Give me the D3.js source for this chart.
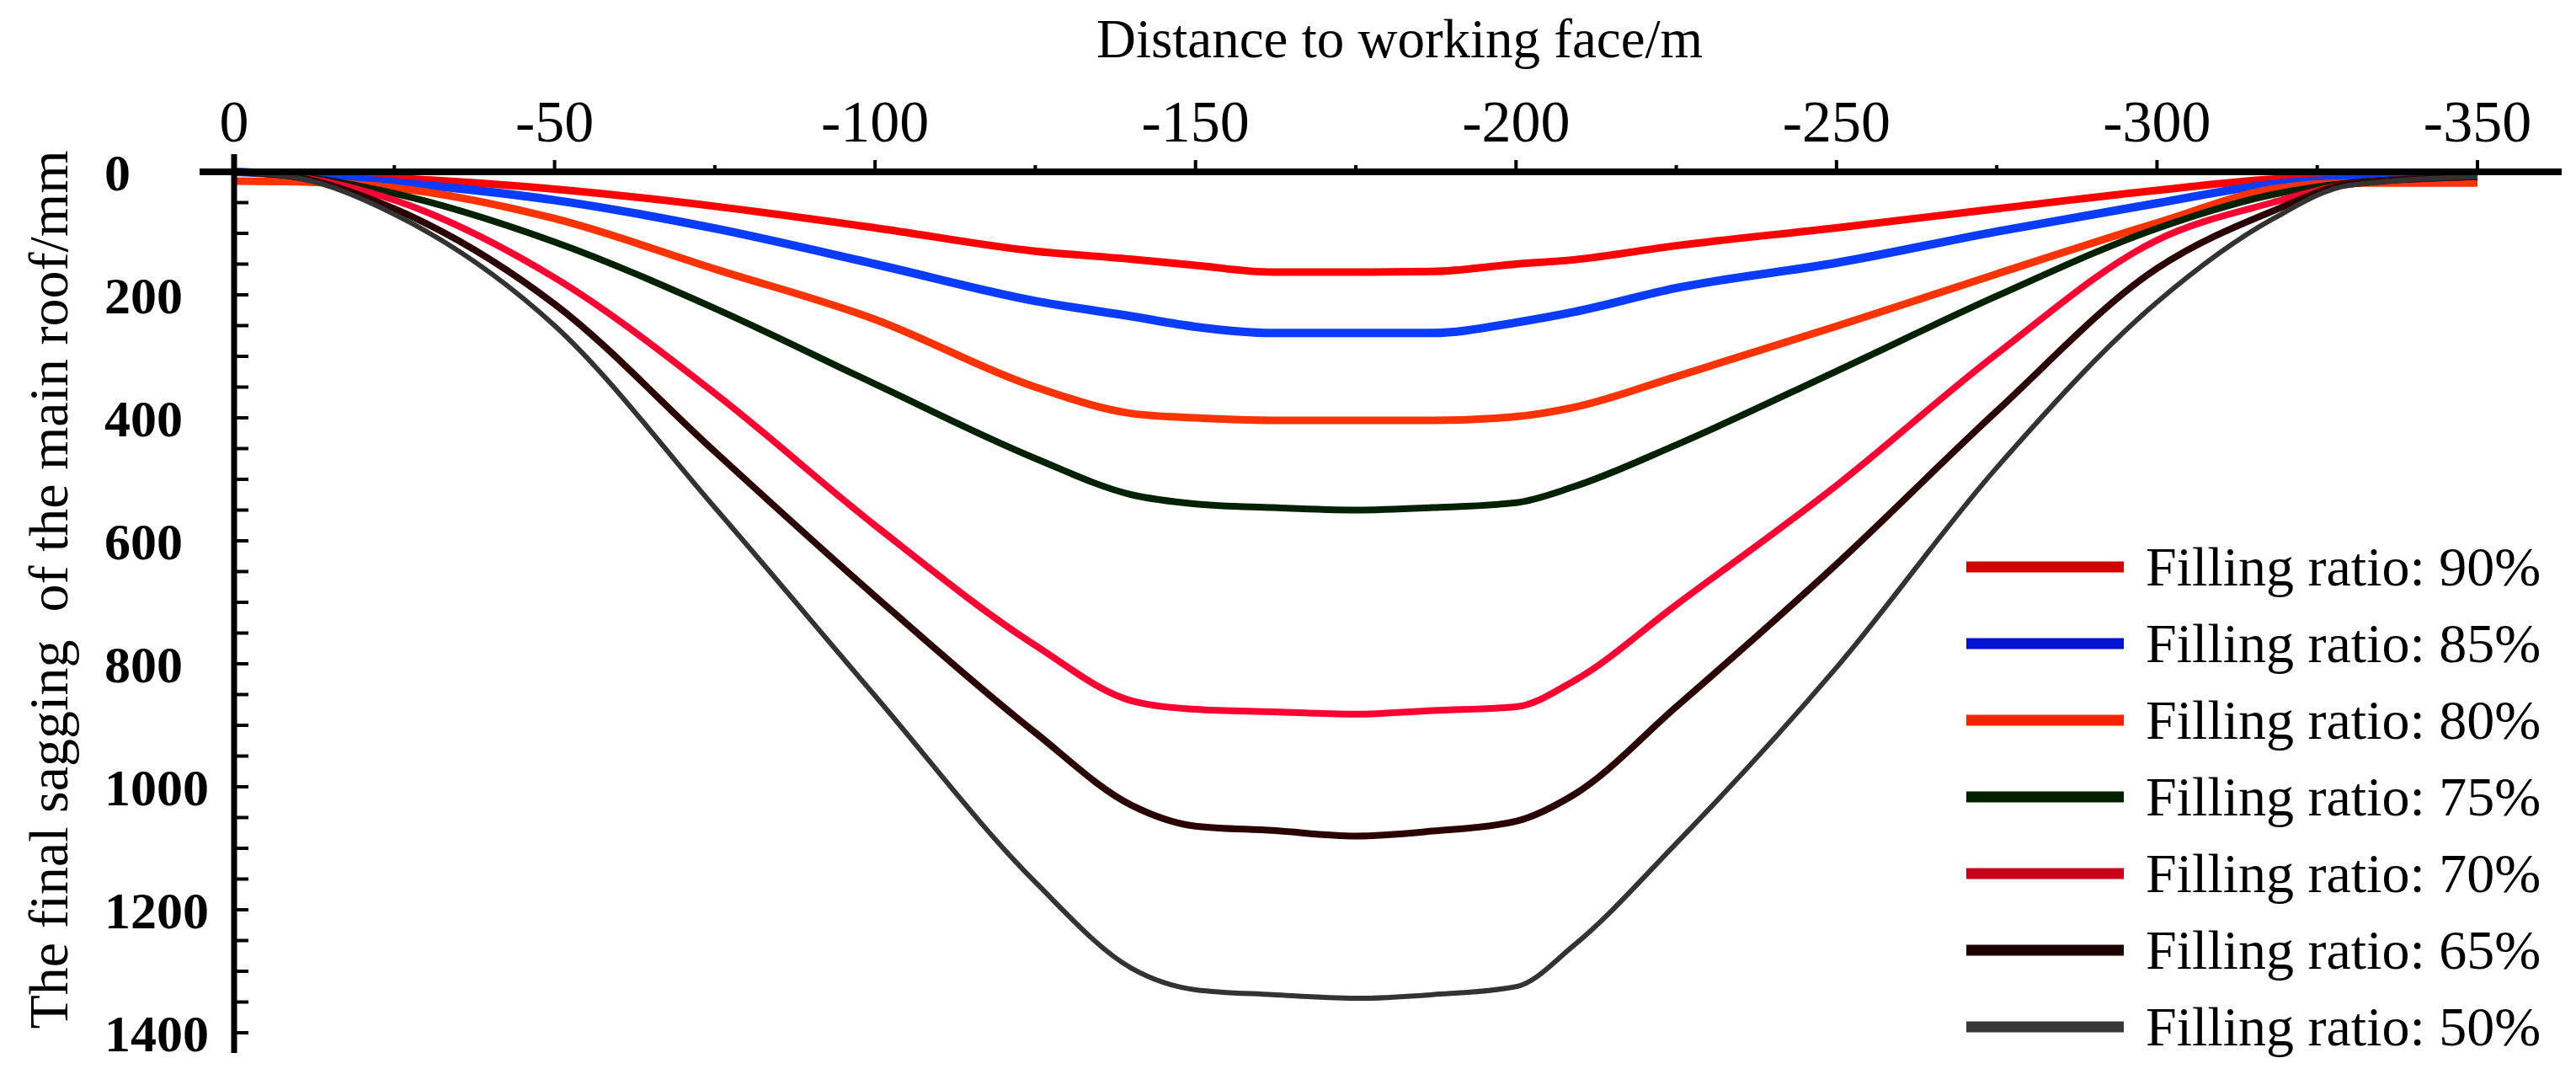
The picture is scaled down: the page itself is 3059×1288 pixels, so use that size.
<!DOCTYPE html>
<html>
<head>
<meta charset="utf-8">
<script src="https://cdn.jsdelivr.net/npm/d3@7"></script>
<style>
  html, body { margin: 0; padding: 0; background: #ffffff; }
  svg { display: block; }
  text { font-family: "Liberation Serif", "Times New Roman", serif; fill: #000; }
</style>
</head>
<body>
<svg id="chart" width="3059" height="1288"></svg>
<script>
// ---------------- data ----------------
const distance = [0, -10, -25, -50, -75, -100, -125, -140, -150, -162, -175, -187, -200, -209, -225, -250, -275, -300, -318, -330, -350];

const sag90 = [0, 3, 10, 28, 56, 91, 129, 142, 152, 163, 163, 162, 150, 143, 120, 91, 60, 30, 12, 8, 5];
const sag85 = [0, 5, 17, 46, 92, 150, 210, 235, 252, 262, 262, 262, 245, 228, 189, 148, 97, 51, 20, 12, 8];
const sag80 = [15, 16, 26, 76, 158, 240, 350, 393, 400, 404, 404, 404, 398, 383, 333, 251, 166, 83, 28, 18, 18];
const sag75 = [0, 7, 35, 114, 222, 345, 466, 525, 540, 546, 550, 546, 538, 512, 444, 324, 202, 92, 37, 18, 8];
const sag70 = [0, 8, 46, 172, 360, 575, 770, 860, 874, 878, 882, 876, 870, 828, 704, 510, 296, 111, 50, 20, 8];
const sag65 = [0, 9, 60, 215, 455, 690, 912, 1030, 1064, 1071, 1080, 1072, 1056, 1013, 870, 638, 389, 157, 64, 20, 8];
const sag50 = [0, 10, 69, 250, 546, 852, 1155, 1295, 1330, 1338, 1344, 1338, 1325, 1258, 1092, 806, 481, 212, 77, 22, 8];

const seriesNames = ["Filling ratio: 90%", "Filling ratio: 85%", "Filling ratio: 80%", "Filling ratio: 75%",
                     "Filling ratio: 70%", "Filling ratio: 65%", "Filling ratio: 50%"];
const seriesValues = [sag90, sag85, sag80, sag75, sag70, sag65, sag50];

const xTicks = [0, -50, -100, -150, -200, -250, -300, -350];
const xMinorTicks = [-25, -75, -125, -175, -225, -275, -325];
const yTicks = [0, 200, 400, 600, 800, 1000, 1200, 1400];

const xTitle = "Distance to working face/m";
const yTitle = "The final sagging  of the main roof/mm";

// ---------------- styles ----------------
const lineColors   = ["#ff0000", "#0a3cff", "#ff3300", "#002200", "#ff0033", "#2a0000", "#333333"];
const legendColors = ["#d40000", "#0014d2", "#ff2200", "#002000", "#c8001a", "#1c0000", "#383838"];
const lineWidths   = [9, 10, 9, 8, 8, 8, 6];

// ---------------- drawing ----------------
const svg = d3.select("#chart");

const x = d3.scaleLinear().domain([0, -350]).range([278, 2942]);
const y = d3.scaleLinear().domain([0, 1400]).range([204, 1226]);

const line = d3.line()
  .x((d, i) => x(distance[i]))
  .y(d => y(d))
  .curve(d3.curveMonotoneX);

// curves
const gCurves = svg.append("g");
seriesValues.forEach((vals, k) => {
  gCurves.append("path")
    .attr("d", line(vals))
    .attr("fill", "none")
    .attr("stroke", lineColors[k])
    .attr("stroke-width", lineWidths[k])
    .attr("stroke-linejoin", "round");
});

// top x axis
const gx = svg.append("g").attr("transform", `translate(0,${y(0)})`);
gx.append("line").attr("x1", 237).attr("x2", 3042).attr("y1", 0).attr("y2", 0)
  .attr("stroke", "#000").attr("stroke-width", 8);
gx.selectAll("line.maj").data(xTicks.filter(d => d !== 0)).enter().append("line")
  .attr("x1", d => x(d)).attr("x2", d => x(d)).attr("y1", 0).attr("y2", -14)
  .attr("stroke", "#000").attr("stroke-width", 4);
gx.selectAll("line.min").data(xMinorTicks).enter().append("line")
  .attr("x1", d => x(d)).attr("x2", d => x(d)).attr("y1", 0).attr("y2", -8)
  .attr("stroke", "#000").attr("stroke-width", 4);
gx.selectAll("text.xt").data(xTicks).enter().append("text")
  .attr("x", d => x(d)).attr("y", 168 - y(0))
  .attr("text-anchor", "middle")
  .attr("font-size", 70)
  .text(d => d3.format("d")(d).replace("\u2212", "-"));

// y axis
const gy = svg.append("g");
gy.append("line").attr("x1", x(0)).attr("x2", x(0)).attr("y1", 183).attr("y2", 1250)
  .attr("stroke", "#000").attr("stroke-width", 7);
const yMinor = d3.range(50, 1401, 50);
gy.selectAll("line.yt").data(yMinor).enter().append("line")
  .attr("x1", x(0)).attr("x2", x(0) + 17).attr("y1", d => y(d)).attr("y2", d => y(d))
  .attr("stroke", "#000").attr("stroke-width", 4);
gy.selectAll("text.yl").data(yTicks).enter().append("text")
  .attr("x", 124).attr("y", d => y(d) + 22)
  .attr("text-anchor", "start")
  .attr("font-size", 62)
  .attr("font-weight", "bold")
  .text(d => d3.format("d")(d));

// axis titles
svg.append("text")
  .attr("x", 1302).attr("y", 68)
  .attr("font-size", 65)
  .text(xTitle);

svg.append("text")
  .attr("transform", "translate(80,700) rotate(-90)")
  .attr("text-anchor", "middle")
  .attr("font-size", 66)
  .style("white-space", "pre")
  .text(yTitle);

// legend
const legY0 = 673, legStep = 91;
const gl = svg.append("g");
seriesNames.forEach((name, k) => {
  const ly = legY0 + k * legStep;
  gl.append("line").attr("x1", 2335).attr("x2", 2522).attr("y1", ly).attr("y2", ly)
    .attr("stroke", legendColors[k]).attr("stroke-width", 13);
  gl.append("text").attr("x", 2548).attr("y", ly + 22)
    .attr("font-size", 66)
    .style("white-space", "pre")
    .text(name);
});
</script>
</body>
</html>
